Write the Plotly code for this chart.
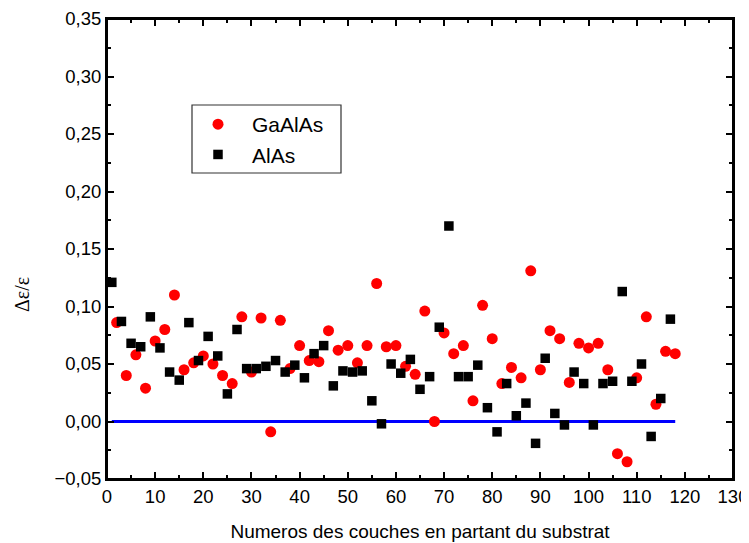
import plotly.graph_objects as go

# GaAlAs (even layer numbers)
gaalas_x = [2, 4, 6, 8, 10, 12, 14, 16, 18, 20, 22, 24, 26, 28, 30, 32, 34, 36, 38, 40,
            42, 44, 46, 48, 50, 52, 54, 56, 58, 60, 62, 64, 66, 68, 70, 72, 74, 76, 78, 80,
            82, 84, 86, 88, 90, 92, 94, 96, 98, 100, 102, 104, 106, 108, 110, 112, 114, 116, 118]
gaalas_y = [0.086, 0.040, 0.058, 0.029, 0.070, 0.080, 0.110, 0.045, 0.051, 0.057, 0.050, 0.040,
            0.033, 0.091, 0.043, 0.090, -0.009, 0.088, 0.046, 0.066, 0.053, 0.052, 0.079, 0.062,
            0.066, 0.051, 0.066, 0.120, 0.065, 0.066, 0.048, 0.041, 0.096, 0.000, 0.077, 0.059,
            0.066, 0.018, 0.101, 0.072, 0.033, 0.047, 0.038, 0.131, 0.045, 0.079, 0.072, 0.034,
            0.068, 0.064, 0.068, 0.045, -0.028, -0.035, 0.038, 0.091, 0.015, 0.061, 0.059]

# AlAs (odd layer numbers)
alas_x = [1, 3, 5, 7, 9, 11, 13, 15, 17, 19, 21, 23, 25, 27, 29, 31, 33, 35, 37, 39,
          41, 43, 45, 47, 49, 51, 53, 55, 57, 59, 61, 63, 65, 67, 69, 71, 73, 75, 77, 79,
          81, 83, 85, 87, 89, 91, 93, 95, 97, 99, 101, 103, 105, 107, 109, 111, 113, 115, 117]
alas_y = [0.121, 0.087, 0.068, 0.065, 0.091, 0.064, 0.043, 0.036, 0.086, 0.053, 0.074, 0.057,
          0.024, 0.080, 0.046, 0.046, 0.048, 0.053, 0.043, 0.049, 0.038, 0.059, 0.066, 0.031,
          0.044, 0.043, 0.044, 0.018, -0.002, 0.050, 0.042, 0.054, 0.028, 0.039, 0.082, 0.170,
          0.039, 0.039, 0.049, 0.012, -0.009, 0.033, 0.005, 0.016, -0.019, 0.055, 0.007, -0.003,
          0.043, 0.033, -0.003, 0.033, 0.035, 0.113, 0.035, 0.050, -0.013, 0.020, 0.089]

# zero reference line
zero_x = [1, 118]
zero_y = [0.0, 0.0]

x_ticks = list(range(0, 131, 10))
y_ticks = [-0.05, 0.0, 0.05, 0.10, 0.15, 0.20, 0.25, 0.30, 0.35]

# page offset (default body margin of the html page is 8px)
OFF = 8
PL, PR, PT, PB = 107, 733, 19, 479   # plot area in page pixels
W, H = 749, 543


def px(x):
    return (x - PL) / (PR - PL)


def py(y):
    return (PB - y) / (PB - PT)


fig = go.Figure()
fig.add_trace(go.Scatter(x=zero_x, y=zero_y, mode="lines",
                         line=dict(color="#0000FF", width=3), showlegend=False))
fig.add_trace(go.Scatter(x=gaalas_x, y=gaalas_y, mode="markers", name="GaAlAs",
                         marker=dict(symbol="circle", size=11, color="#FF0000", line=dict(width=0))))
fig.add_trace(go.Scatter(x=alas_x, y=alas_y, mode="markers", name="AlAs",
                         marker=dict(symbol="square", size=9.5, color="#000000", line=dict(width=0))))

axis_common = dict(showline=True, linecolor="black", linewidth=2, mirror="allticks",
                   ticks="inside", ticklen=7, tickwidth=2, tickcolor="black",
                   showgrid=False, zeroline=False, automargin=False,
                   ticklabeloverflow="allow",
                   tickfont=dict(family="Liberation Sans, Arial", size=18.5, color="black"))

fig.update_layout(
    width=W, height=H,
    margin=dict(l=PL - OFF, r=W - (PR - OFF), t=PT - OFF, b=H - (PB - OFF)),
    plot_bgcolor="white", paper_bgcolor="white",
    separators=", ",
    xaxis=dict(range=[0, 130], tickvals=x_ticks,
               minor=dict(ticks="inside", ticklen=4, dtick=5, tick0=0, tickcolor="black", tickwidth=2),
               title=dict(text="Numeros des couches en partant du substrat",
                          font=dict(family="Liberation Sans, Arial", size=19, color="black"),
                          standoff=18),
               **axis_common),
    yaxis=dict(range=[-0.05, 0.35], tickvals=y_ticks, tickformat=".2f",
               ticksuffix="\u00a0\u00a0",
               minor=dict(ticks="inside", ticklen=4, dtick=0.025, tick0=0, tickcolor="black", tickwidth=2),
               **axis_common),
    legend=dict(x=px(184), y=py(104), xanchor="left", yanchor="top",
                bgcolor="rgba(0,0,0,0)", borderwidth=0, itemwidth=58, tracegroupgap=0,
                font=dict(family="Liberation Sans, Arial", size=21, color="black")),
    shapes=[dict(type="rect", xref="paper", yref="paper",
                 x0=px(192), x1=px(341), y0=py(173), y1=py(105),
                 line=dict(color="#333333", width=1.2), fillcolor="rgba(0,0,0,0)"),
            dict(type="rect", xref="paper", yref="paper", x0=0, x1=1, y0=0, y1=1,
                 line=dict(color="black", width=2), fillcolor="rgba(0,0,0,0)", layer="above")],
    annotations=[dict(text="Δε/ε", textangle=-90, xref="paper", yref="paper",
                      x=px(22), y=py(295), showarrow=False,
                      xanchor="center", yanchor="middle",
                      font=dict(family="Liberation Serif, Times New Roman", size=20, color="black"))],
)

fig.write_html("out.html")
